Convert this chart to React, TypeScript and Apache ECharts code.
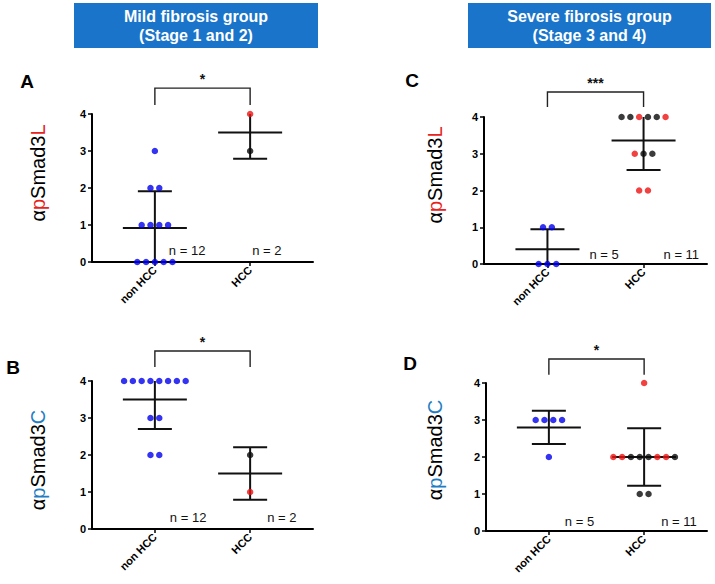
import React, { useEffect, useRef } from "react";
import * as echarts from "echarts";

// ---------- data ----------
const categories = ["non HCC", "HCC"];
const yTicks = [0, 1, 2, 3, 4];

// Panel A: αpSmad3L, mild fibrosis
const aNonHcc = [3, 2, 2, 1, 1, 1, 1, 0, 0, 0, 0, 0];
const aHcc = [4, 3];
const aHccGroup = ["R", "K"];

// Panel B: αpSmad3C, mild fibrosis
const bNonHcc = [4, 4, 4, 4, 4, 4, 4, 4, 3, 3, 2, 2];
const bHcc = [2, 1];
const bHccGroup = ["K", "R"];

// Panel C: αpSmad3L, severe fibrosis
const cNonHcc = [1, 1, 0, 0, 0];
const cHcc = [4, 4, 4, 4, 4, 4, 3, 3, 3, 2, 2];
const cHccGroup = ["K", "K", "R", "K", "K", "R", "R", "K", "K", "R", "R"];

// Panel D: αpSmad3C, severe fibrosis
const dNonHcc = [3, 3, 3, 3, 2];
const dHcc = [4, 2, 2, 2, 2, 2, 2, 2, 2, 1, 1];
const dHccGroup = ["R", "R", "R", "K", "K", "K", "R", "R", "K", "K", "K"];

const significance = ["*", "*", "***", "*"];
const titles = ["Mild fibrosis group\n(Stage 1 and 2)", "Severe fibrosis group\n(Stage 3 and 4)"];

// ---------- styles / layout ----------
const GROUP_COLOR: Record<string, string> = { B: "#0000ee", R: "#ee1111", K: "#0a0a0a" };
const RED = "#e8221c";
const BLUE = "#1f7dc3";
const BOX = "#1a74c9";

const panels = [
  {
    letter: "A", nonHcc: aNonHcc, hcc: aHcc, hccGroup: aHccGroup, suffix: "L", pColor: RED,
    grid: { left: 92, top: 114, width: 221, height: 148 },
    letterPos: [27, 81], labelPos: [38, 173],
    bracket: { top: 4.7, leg: 4.24, star: 4.95 }, nDx: [14, 2], nY: 0.32,
  },
  {
    letter: "B", nonHcc: bNonHcc, hcc: bHcc, hccGroup: bHccGroup, suffix: "C", pColor: BLUE,
    grid: { left: 92, top: 381, width: 221, height: 148 },
    letterPos: [13, 367], labelPos: [38, 460],
    bracket: { top: 4.81, leg: 4.38, star: 5.05 }, nDx: [15, 17], nY: 0.3,
  },
  {
    letter: "C", nonHcc: cNonHcc, hcc: cHcc, hccGroup: cHccGroup, suffix: "L", pColor: RED,
    grid: { left: 484, top: 117, width: 223, height: 147 },
    letterPos: [412, 80], labelPos: [435, 175],
    bracket: { top: 4.68, leg: 4.27, star: 4.93 }, nDx: [42, 20], nY: 0.27,
  },
  {
    letter: "D", nonHcc: dNonHcc, hcc: dHcc, hccGroup: dHccGroup, suffix: "C", pColor: BLUE,
    grid: { left: 486, top: 383, width: 221, height: 148 },
    letterPos: [410, 363], labelPos: [435, 450],
    bracket: { top: 4.65, leg: 4.22, star: 4.89 }, nDx: [16, 17], nY: 0.27,
  },
];

const SPACING = 8.8;
const Y_MAX = 4;

function mean(a: number[]) {
  return a.reduce((s, v) => s + v, 0) / a.length;
}
function sd(a: number[]) {
  const m = mean(a);
  return Math.sqrt(a.reduce((s, v) => s + (v - m) * (v - m), 0) / (a.length - 1));
}

function dotItems(values: number[], groups: string[], cat: number) {
  const counts: Record<string, number> = {};
  values.forEach((v) => (counts[v] = (counts[v] || 0) + 1));
  const seen: Record<string, number> = {};
  return values.map((v, i) => {
    const k = counts[v];
    const idx = seen[v] || 0;
    seen[v] = idx + 1;
    return {
      value: [cat, v],
      symbolOffset: [(idx - (k - 1) / 2) * SPACING, 0],
      itemStyle: { color: GROUP_COLOR[groups[i]] },
    };
  });
}

function buildOption() {
  const grids: any[] = [];
  const xAxes: any[] = [];
  const yAxes: any[] = [];
  const series: any[] = [];
  const graphic: any[] = [];

  panels.forEach((p, i) => {
    grids.push({ ...p.grid, containLabel: false });
    xAxes.push({
      type: "value", gridIndex: i, min: -0.66, max: 1.66,
      axisLine: { show: true, onZero: false, lineStyle: { color: "#000", width: 2 } },
      axisTick: { show: true, customValues: [0, 1], length: 4, lineStyle: { color: "#000", width: 1.5 } },
      axisLabel: {
        customValues: [0, 1], formatter: (v: number) => categories[Math.round(v)] ?? "",
        rotate: 45, color: "#000", fontWeight: "bold", fontSize: 11, fontFamily: "Liberation Sans", margin: 6,
      },
      splitLine: { show: false },
    });
    yAxes.push({
      type: "value", gridIndex: i, min: yTicks[0], max: yTicks[yTicks.length - 1], interval: 1,
      axisLine: { show: true, onZero: false, lineStyle: { color: "#000", width: 2 } },
      axisTick: { show: true, length: 4, lineStyle: { color: "#000", width: 1.5 } },
      axisLabel: { color: "#000", fontWeight: "bold", fontSize: 11, fontFamily: "Liberation Sans", margin: 6 },
      splitLine: { show: false },
    });

    const nonGroups = p.nonHcc.map(() => "B");
    // error bars
    series.push({
      type: "custom", xAxisIndex: i, yAxisIndex: i, clip: false, z: 2,
      data: [
        [0, mean(p.nonHcc), sd(p.nonHcc)],
        [1, mean(p.hcc), sd(p.hcc)],
      ],
      renderItem: (params: any, api: any) => {
        const x = api.value(0), m = api.value(1), s = api.value(2);
        const lo = Math.max(0, m - s), hi = Math.min(Y_MAX, m + s);
        const pm = api.coord([x, m]);
        const pl = api.coord([x, lo]);
        const ph = api.coord([x, hi]);
        const st = { stroke: "#111", lineWidth: 2 };
        const children: any[] = [
          { type: "line", shape: { x1: pl[0], y1: pl[1], x2: ph[0], y2: ph[1] }, style: st },
          { type: "line", shape: { x1: pm[0] - 32, y1: pm[1], x2: pm[0] + 32, y2: pm[1] }, style: st },
        ];
        if (m - s >= 0) {
          const c = api.coord([x, m - s]);
          children.push({ type: "line", shape: { x1: c[0] - 17, y1: c[1], x2: c[0] + 17, y2: c[1] }, style: st });
        }
        if (m + s <= Y_MAX) {
          const c = api.coord([x, m + s]);
          children.push({ type: "line", shape: { x1: c[0] - 17, y1: c[1], x2: c[0] + 17, y2: c[1] }, style: st });
        }
        return { type: "group", children };
      },
    });
    // dots
    series.push({
      type: "scatter", xAxisIndex: i, yAxisIndex: i, symbol: "circle", symbolSize: 6.5, z: 3,
      data: [...dotItems(p.nonHcc, nonGroups, 0), ...dotItems(p.hcc, p.hccGroup, 1)],
    });
    // bracket, significance and n labels
    series.push({
      type: "custom", xAxisIndex: i, yAxisIndex: i, clip: false, z: 4,
      data: [[0, 1]],
      renderItem: (params: any, api: any) => {
        const a0 = api.coord([0, p.bracket.leg]);
        const a1 = api.coord([0, p.bracket.top]);
        const b1 = api.coord([1, p.bracket.top]);
        const b0 = api.coord([1, p.bracket.leg]);
        const sp = api.coord([0.5, p.bracket.star]);
        const n0 = api.coord([0, p.nY]);
        const n1 = api.coord([1, p.nY]);
        const textStyle = { fill: "#111", font: "13px 'Liberation Sans'", textAlign: "left", textVerticalAlign: "middle" };
        return {
          type: "group",
          children: [
            {
              type: "polyline",
              shape: { points: [a0, a1, b1, b0] },
              style: { stroke: "#222", lineWidth: 1.4, fill: "none" },
            },
            {
              type: "text", x: sp[0], y: sp[1],
              style: { text: significance[i], fill: "#111", font: "bold 14px 'Liberation Sans'", textAlign: "center", textVerticalAlign: "middle" },
            },
            { type: "text", x: n0[0] + p.nDx[0], y: n0[1], style: { ...textStyle, text: "n = " + p.nonHcc.length } },
            { type: "text", x: n1[0] + p.nDx[1], y: n1[1], style: { ...textStyle, text: "n = " + p.hcc.length } },
          ],
        };
      },
    });

    graphic.push({
      type: "text", x: p.letterPos[0], y: p.letterPos[1],
      style: { text: p.letter, fill: "#000", font: "bold 19px 'Liberation Sans'", textAlign: "center", textVerticalAlign: "middle" },
    });
    graphic.push({
      type: "text", x: p.labelPos[0], y: p.labelPos[1], rotation: Math.PI / 2,
      style: {
        text: "{k|α}{c|p}{k|Smad3}{c|" + p.suffix + "}",
        textAlign: "center", textVerticalAlign: "middle",
        rich: {
          k: { fill: "#000", fontSize: 20, fontFamily: "Liberation Sans" },
          c: { fill: p.pColor, fontSize: 20, fontFamily: "Liberation Sans" },
        },
      },
    });
  });

  // title boxes
  const boxes = [
    { x: 74, w: 244 },
    { x: 468, w: 243 },
  ];
  boxes.forEach((b, j) => {
    graphic.push({ type: "rect", shape: { x: b.x, y: 3, width: b.w, height: 45 }, style: { fill: BOX } });
    graphic.push({
      type: "text", x: b.x + b.w / 2, y: 26,
      style: {
        text: titles[j], fill: "#fff", font: "bold 16px 'Liberation Sans'", lineHeight: 19,
        textAlign: "center", textVerticalAlign: "middle",
      },
    });
  });

  return {
    animation: false,
    backgroundColor: "#fff",
    grid: grids,
    xAxis: xAxes,
    yAxis: yAxes,
    series,
    graphic,
  };
}

export default function App() {
  const ref = useRef<HTMLDivElement>(null);
  useEffect(() => {
    document.body.style.margin = "0";
    if (!ref.current) return;
    const chart = echarts.init(ref.current, null, { renderer: "svg" });
    chart.setOption(buildOption() as any);
    return () => chart.dispose();
  }, []);
  return <div ref={ref} style={{ width: 715, height: 584 }} />;
}
